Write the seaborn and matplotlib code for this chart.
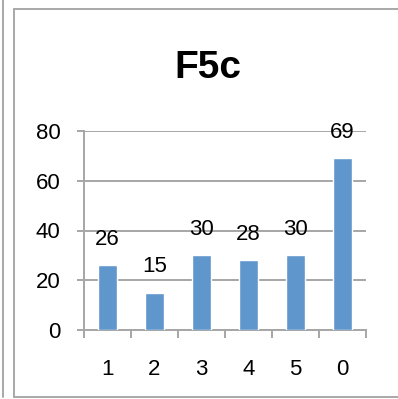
import matplotlib
matplotlib.use("Agg")
import matplotlib.pyplot as plt
from matplotlib.lines import Line2D
from matplotlib.ticker import FixedLocator
import seaborn as sns
import pandas as pd

categories = ["1", "2", "3", "4", "5", "0"]
values = [26, 15, 30, 28, 30, 69]
y_ticks = [0, 20, 40, 60, 80]
title = "F5c"

sns.set_theme(style="white")
plt.rcParams["font.family"] = ["Liberation Sans", "DejaVu Sans"]

df = pd.DataFrame({"cat": categories, "val": values})

fig = plt.figure(figsize=(3.98, 3.99), dpi=100)
ax = fig.add_axes([84 / 398, 1 - 330 / 399, (366 - 84) / 398, (330 - 131) / 399])

grey = "#a6a6a6"
bar_color = "#5f96cc"

sns.barplot(data=df, x="cat", y="val", order=categories, color=bar_color,
            width=0.39, saturation=1, ax=ax, zorder=3)

ax.set_ylim(0, 80)
ax.set_xlim(-0.5, len(categories) - 0.5)
ax.set_yticks(y_ticks)
ax.set_yticklabels([str(t) for t in y_ticks])
ax.yaxis.grid(True, color=grey, linewidth=1.4, zorder=0)
ax.xaxis.grid(False)
ax.set_axisbelow(True)
ax.set_xlabel("")
ax.set_ylabel("")

for s in ["top", "right"]:
    ax.spines[s].set_visible(False)
for s in ["left", "bottom"]:
    ax.spines[s].set_color(grey)
    ax.spines[s].set_linewidth(1.4)

ax.tick_params(axis="y", which="major", direction="out", length=5, width=1.4,
               color=grey, labelsize=16, pad=12, left=True, labelcolor="black")
ax.tick_params(axis="x", which="major", length=0, labelsize=16, pad=21,
               labelcolor="black")
ax.xaxis.set_minor_locator(FixedLocator([i - 0.5 for i in range(len(categories) + 1)]))
ax.tick_params(axis="x", which="minor", direction="out", length=6, width=1.4,
               color=grey, bottom=True)

for i, v in enumerate(values):
    ax.annotate(str(v), (i, v), xytext=(0, 18.5), textcoords="offset points",
                ha="center", va="center", fontsize=16, color="black", zorder=5)

fig.text(208 / 398, 1 - 68 / 399, title, ha="center", va="center",
         fontsize=28, fontweight="bold", color="black")

# chart frame
frame_col = "#a8a8a8"
fig.add_artist(Line2D([14 / 398, 14 / 398], [1 - 9 / 399, 1 - 397 / 399],
                      transform=fig.transFigure, color=frame_col, linewidth=1.4))
fig.add_artist(Line2D([14 / 398, 1.0], [1 - 9 / 399, 1 - 9 / 399],
                      transform=fig.transFigure, color=frame_col, linewidth=1.4))
fig.add_artist(Line2D([14 / 398, 1.0], [1 - 397 / 399, 1 - 397 / 399],
                      transform=fig.transFigure, color=frame_col, linewidth=1.4))
fig.add_artist(Line2D([2.5 / 398, 2.5 / 398], [1.0, 1 - 397 / 399],
                      transform=fig.transFigure, color=frame_col, linewidth=1.4))

fig.savefig("out.png", dpi=100)
